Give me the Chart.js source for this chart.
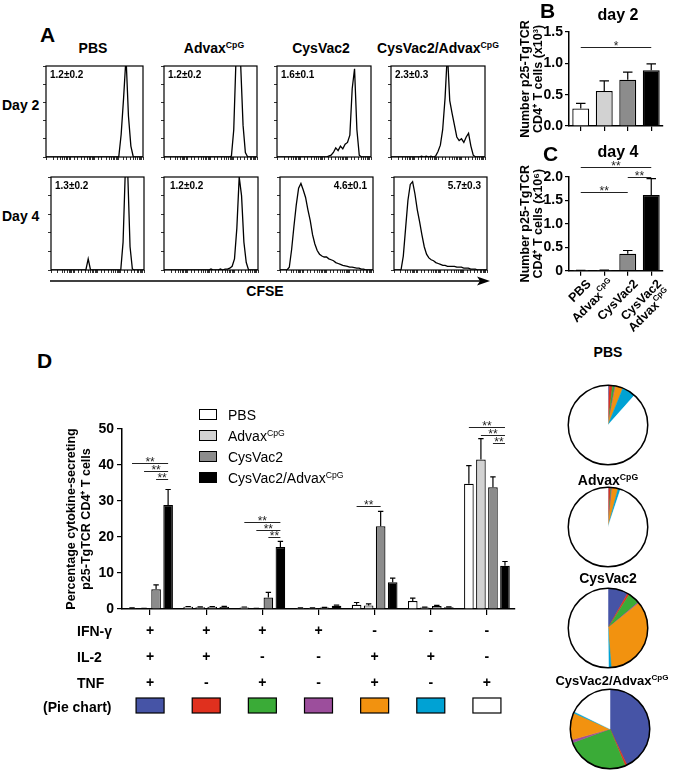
<!DOCTYPE html>
<html><head><meta charset="utf-8">
<script src="https://cdn.jsdelivr.net/npm/chart.js@4"></script>
<style>
body{margin:0;background:#fff;}
#fig{position:relative;width:675px;height:773px;overflow:hidden;font-family:"Liberation Sans",Arial,sans-serif;color:#000;background:#fff;}
.t{position:absolute;white-space:nowrap;line-height:1;z-index:5;}
.b{font-weight:bold;}
.c{transform:translate(-50%,-50%);}
.l{transform:translate(0,-50%);}
.r{transform:translate(-100%,-50%);}
.sw{position:absolute;width:18px;height:11px;box-sizing:border-box;border:1.2px solid #000;z-index:5;}
sup{font-size:0.62em;vertical-align:0.55em;line-height:0;}
canvas{position:absolute;}
</style></head>
<body>
<div id="fig">
<svg style="position:absolute;left:0;top:0" width="675" height="773">
  <line x1="50" y1="281" x2="481" y2="281" stroke="#000" stroke-width="1.5"/>
  <polygon points="490,281 477,276.5 480,281 477,285.5" fill="#000"/>
</svg>
<!-- Panel A -->
<div class="t l b" style="left:40px;top:34px;font-size:21px">A</div>
<div class="t c b" style="left:93px;top:48px;font-size:14px">PBS</div>
<div class="t c b" style="left:214px;top:48px;font-size:14px">Advax<sup>CpG</sup></div>
<div class="t c b" style="left:321px;top:48px;font-size:14px">CysVac2</div>
<div class="t c b" style="left:438px;top:48px;font-size:14px">CysVac2/Advax<sup>CpG</sup></div>
<div class="t l b" style="left:2px;top:105px;font-size:14px">Day 2</div>
<div class="t l b" style="left:2px;top:216px;font-size:14px">Day 4</div>
<div class="t l b" style="left:50px;top:75px;font-size:10px">1.2±0.2</div>
<div class="t l b" style="left:168px;top:75px;font-size:10px">1.2±0.2</div>
<div class="t l b" style="left:281px;top:75px;font-size:10px">1.6±0.1</div>
<div class="t l b" style="left:395px;top:75px;font-size:10px">2.3±0.3</div>
<div class="t l b" style="left:55px;top:186px;font-size:10px">1.3±0.2</div>
<div class="t l b" style="left:170px;top:186px;font-size:10px">1.2±0.2</div>
<div class="t r b" style="left:367px;top:186px;font-size:10px">4.6±0.1</div>
<div class="t r b" style="left:481px;top:186px;font-size:10px">5.7±0.3</div>
<div class="t c b" style="left:265px;top:291px;font-size:14px">CFSE</div>
<!-- Panel B / C -->
<div class="t l b" style="left:540px;top:10px;font-size:21px">B</div>
<div class="t c b" style="left:618px;top:15px;font-size:16px">day 2</div>
<div class="t l b" style="left:543px;top:153px;font-size:21px">C</div>
<div class="t c b" style="left:618px;top:152px;font-size:16px">day 4</div>
<!-- Panel D -->
<div class="t l b" style="left:37px;top:360px;font-size:21px">D</div>
<div class="sw" style="left:199px;top:409px;background:#ffffff"></div>
<div class="sw" style="left:199px;top:430px;background:#d2d2d2"></div>
<div class="sw" style="left:199px;top:451px;background:#8c8c8c"></div>
<div class="sw" style="left:199px;top:472px;background:#000000"></div>
<div class="t l" style="left:228px;top:415px;font-size:14px">PBS</div>
<div class="t l" style="left:228px;top:436px;font-size:14px">Advax<sup>CpG</sup></div>
<div class="t l" style="left:228px;top:457px;font-size:14px">CysVac2</div>
<div class="t l" style="left:228px;top:478px;font-size:14px">CysVac2/Advax<sup>CpG</sup></div>
<div class="t l b" style="left:77px;top:631px;font-size:14px">IFN-γ</div>
<div class="t l b" style="left:77px;top:657px;font-size:14px">IL-2</div>
<div class="t l b" style="left:77px;top:683px;font-size:14px">TNF</div>
<div class="t l b" style="left:43px;top:707px;font-size:14px">(Pie chart)</div>
<!-- pies titles -->
<div class="t c b" style="left:608px;top:352px;font-size:14px">PBS</div>
<div class="t c b" style="left:608px;top:480px;font-size:14px">Advax<sup>CpG</sup></div>
<div class="t c b" style="left:608px;top:578px;font-size:14px">CysVac2</div>
<div class="t c b" style="left:612px;top:680px;font-size:13px">CysVac2/Advax<sup>CpG</sup></div>
</div>
<script>
// ---------------- DATA ----------------
const groups = ['PBS', 'Advax^CpG', 'CysVac2', 'CysVac2/Advax^CpG'];
const groupColors = ['#ffffff', '#d2d2d2', '#8c8c8c', '#000000'];

// Panel A: CFSE histograms (bin positions on log CFSE axis, counts as % of max)
const cfseBins = [1, 1.26, 1.58, 2, 2.51, 3.16, 3.98, 5.01, 6.31, 7.94, 10, 12.6, 15.8, 20, 25.1, 31.6, 39.8, 50.1, 63.1, 79.4, 100, 126, 158, 200, 251, 316, 398, 501, 631, 794, 1000, 1259, 1585, 1995, 2512, 3162, 3981, 5012, 6310, 7943, 10000];
const histDay2PBS   = [0,0,0,0,0,0,0,0,0,0, 0,0,0,0,0,0,0,0,0,0, 0,0,0,0,0,0,0,0,0,0, 0,25,65,110,45,12,0,0,0,0,0];
const histDay2Advax = [0,0,0,0,0,0,0,0,0,0, 0,0,0,0,0,0,0,0,0,0, 0,0,0,0,0,0,0,0,0,1, 30,110,140,100,35,5,0,0,0,0,0];
const histDay2Cys   = [0,0,0,0,0,0,0,0,0,0, 0,0,0,0,0,0,0,0,0,0, 0,0,1,2,5,10,7,12,9,14, 16,24,75,97,30,2,0,0,0,0,0];
const histDay2Combo = [0,0,0,0,0,0,0,0,0,0, 0,0,0,1,0,1,0,1,0,1, 6,13,30,65,115,62,48,35,22,18, 20,16,22,26,12,2,0,0,0,0,0];
const histDay4PBS   = [0,0,0,0,0,0,0,0,0,0, 0,0,0,0,0,0,12,0,0,0, 0,0,0,0,0,0,0,0,0,0, 0,30,110,105,25,1,0,0,0,0,0];
const histDay4Advax = [0,0,0,0,0,0,0,0,0,0, 0,0,0,0,0,0,0,0,0,0, 1,0,0,0,1,0,1,1,2,4, 12,45,100,80,30,8,0,0,0,0,0];
const histDay4Cys   = [0,0,0,0,3,22,47,70,88,93, 86,78,65,53,38,28,21,17,15,14, 14,12,11,10,8,7,6,5,4.5,4, 3,3,2.5,2,2,1,1,0,0,0,0];
const histDay4Combo = [0,0,0,0,15,45,75,92,95,82, 65,52,38,25,17,13,11,10,8,7, 6,5,5,4,4,4,4,3,3,3, 2,2,2,1,1,1,0,0,0,0,0];

// Panel B (day 2, x10^3) and C (day 4, x10^6)
const day2Counts = [0.28, 0.56, 0.74, 0.89];
const day2Sem    = [0.08, 0.16, 0.12, 0.10];
const day4Counts = [0.005, 0.01, 0.36, 1.61];
const day4Sem    = [0.002, 0.003, 0.07, 0.35];
const xLabelsC   = [['PBS'], ['Advax^CpG'], ['CysVac2'], ['CysVac2', 'Advax^CpG']];
const day2Sig = [{from:0, to:3, y:1.265, label:'*'}];
const day4Sig = [{from:0, to:3, y:2.2, label:'**'}, {from:2, to:3, y:2.0, label:'**'}, {from:0, to:2, y:1.68, label:'**'}];

// Panel D: cytokine combinations
const ifnRow = ['+', '+', '+', '+', '-', '-', '-'];
const il2Row = ['+', '+', '-', '-', '+', '+', '-'];
const tnfRow = ['+', '-', '+', '-', '+', '-', '+'];
const pbsPct    = [0.2, 0.6, 0.4, 0.3, 1.2, 2.2, 34.8];
const advaxPct  = [0.15, 0.5, 0.15, 0.3, 1.0, 0.4, 41.5];
const cysPct    = [5.5, 0.6, 3.2, 0.4, 23.0, 0.8, 33.8];
const comboPct  = [28.9, 0.6, 17.2, 0.9, 7.4, 0.5, 12.0];
const pbsPctSem   = [0.1, 0.1, 0.15, 0.05, 0.6, 0.8, 5.0];
const advaxPctSem = [0.05, 0.1, 0.05, 0.05, 0.4, 0.1, 5.8];
const cysPctSem   = [1.2, 0.1, 1.4, 0.05, 4.1, 0.2, 2.9];
const comboPctSem = [4.3, 0.15, 1.6, 0.2, 1.2, 0.1, 1.2];
const sigD = [
  {cat:0, from:0, to:3, y:40.6}, {cat:0, from:1, to:3, y:38.4}, {cat:0, from:2, to:3, y:36.1},
  {cat:2, from:0, to:3, y:24.2}, {cat:2, from:1, to:3, y:22.0}, {cat:2, from:2, to:3, y:19.9},
  {cat:4, from:0, to:2, y:28.7},
  {cat:6, from:0, to:3, y:50.6}, {cat:6, from:1, to:3, y:48.3}, {cat:6, from:2, to:3, y:46.2}
];

// Pie charts (% of cytokine-secreting cells per combination)
const pieColors = ['#4654a6', '#e0301e', '#3aab37', '#9c4e9c', '#f2920f', '#00a2d4', '#ffffff'];
const piePBS   = [0.5, 1.3, 1.0, 0.3, 3.0, 5.5, 88.4];
const pieAdvax = [0.3, 0.8, 0.3, 0.3, 2.4, 1.0, 94.9];
const pieCys   = [8.2, 0.8, 4.8, 0.4, 34.5, 1.1, 50.2];
const pieCombo = [43.0, 0.8, 25.6, 1.2, 11.0, 0.6, 17.8];

// ---------------- RENDERING ----------------
Chart.defaults.font.family = '"Liberation Sans", Arial, sans-serif';
Chart.defaults.color = '#000';
const fig = document.getElementById('fig');
function makeCanvas(left, top, w, h) {
  const c = document.createElement('canvas');
  c.width = w; c.height = h;
  c.style.left = left + 'px'; c.style.top = top + 'px';
  c.style.width = w + 'px'; c.style.height = h + 'px';
  fig.appendChild(c);
  return c;
}
const baseOpts = {responsive:false, maintainAspectRatio:false, animation:false, devicePixelRatio:1,
  events:[], plugins:{legend:{display:false}, tooltip:{enabled:false}}};

function richParts(s) {
  const p = s.split('^');
  return p.length > 1 ? [{t:p[0], sup:false}, {t:p[1], sup:true}] : [{t:s, sup:false}];
}

const boxPlugin = {id:'box', afterDraw(chart) {
  const a = chart.chartArea, c = chart.ctx;
  c.save(); c.strokeStyle = '#000'; c.lineWidth = 1.2;
  c.strokeRect(a.left, a.top, a.right - a.left, a.bottom - a.top);
  c.restore();
}};

function histogram(box, counts) {
  const [l, t, w, h] = box;
  new Chart(makeCanvas(l - 6, t - 2, w + 8, h + 8), {
    type:'line',
    data:{datasets:[{data: cfseBins.map((x, i) => ({x:x, y:counts[i]})), borderColor:'#000', borderWidth:1.3,
      pointRadius:0, fill:false, tension:0}]},
    options:Object.assign({}, baseOpts, {
      layout:{padding:{top:2, right:2, left:0, bottom:0}},
      scales:{
        x:{type:'logarithmic', min:1, max:10000, ticks:{display:false},
           grid:{drawOnChartArea:false, tickLength:3, color:'#000', lineWidth:0.8}, border:{display:false},
           afterFit(s){ s.height = 6; }},
        y:{min:0, max:100, ticks:{display:false, stepSize:20},
           grid:{drawOnChartArea:false, tickLength:3, color:'#000', lineWidth:0.8}, border:{display:false},
           afterFit(s){ s.width = 6; }}
      }
    }),
    plugins:[boxPlugin]
  });
}
histogram([46, 66, 97, 91], histDay2PBS);
histogram([164, 66, 93, 91], histDay2Advax);
histogram([277, 66, 94, 91], histDay2Cys);
histogram([391, 66, 94, 91], histDay2Combo);
histogram([51, 177, 93, 93], histDay4PBS);
histogram([164, 177, 94, 93], histDay4Advax);
histogram([280, 177, 93, 93], histDay4Cys);
histogram([394, 177, 93, 93], histDay4Combo);

const errPlugin = {id:'err', afterDatasetsDraw(chart) {
  const c = chart.ctx, ys = chart.scales.y;
  c.save(); c.strokeStyle = '#000'; c.lineWidth = 1.2;
  chart.data.datasets.forEach((ds, i) => {
    if (!ds.errors) return;
    chart.getDatasetMeta(i).data.forEach((bar, j) => {
      const p = bar.getProps(['x', 'y', 'width'], true);
      const top = ys.getPixelForValue(ds.data[j] + ds.errors[j]);
      const cap = p.width * 0.28;
      c.beginPath();
      c.moveTo(p.x, p.y); c.lineTo(p.x, top);
      c.moveTo(p.x - cap, top); c.lineTo(p.x + cap, top);
      c.stroke();
    });
  });
  c.restore();
}};

function sigPlugin(items, xs) {
  return {id:'sig', afterDatasetsDraw(chart) {
    const c = chart.ctx, ys = chart.scales.y;
    c.save(); c.strokeStyle = '#222'; c.fillStyle = '#222'; c.lineWidth = 1;
    c.font = '12px "Liberation Sans", Arial, sans-serif'; c.textAlign = 'center'; c.textBaseline = 'alphabetic';
    items.forEach(it => {
      const [x1, x2] = xs(chart, it);
      const y = Math.round(ys.getPixelForValue(it.y)) + 0.5;
      c.beginPath(); c.moveTo(x1, y); c.lineTo(x2, y); c.stroke();
      c.fillText(it.label || '**', (x1 + x2) / 2, y + 2.5);
    });
    c.restore();
  }};
}
const xsSingle = (chart, it) => [chart.getDatasetMeta(0).data[it.from].x, chart.getDatasetMeta(0).data[it.to].x];

function smallBarOptions(yMax, padTop, xHeight, tickCb, titleText) {
  return Object.assign({}, baseOpts, {
    layout:{padding:{top:padTop, right:12, left:0, bottom:0}},
    scales:{
      x:{ticks:{display:false}, grid:{offset:false, drawOnChartArea:false, tickLength:5, color:'#000', lineWidth:1.2},
         border:{color:'#000', width:1.5}, afterFit(s){ s.height = xHeight; }},
      y:{min:0, max:yMax, ticks:{stepSize:0.5, font:{size:14, weight:'bold'}, padding:2, callback:tickCb},
         grid:{drawOnChartArea:false, tickLength:4, color:'#000', lineWidth:1.2}, border:{color:'#000', width:1.5},
         title:{display:true, text:titleText, font:{size:12.5, weight:'bold', lineHeight:1.08}, padding:{top:0.5, bottom:0}},
         afterFit(s){ s.width = 51; }}
    }
  });
}
function smallBarData(values, sems) {
  return {labels: groups, datasets:[{data: values, errors: sems, backgroundColor: groupColors, borderColor:'#000',
    borderWidth:1.3, barPercentage:0.72, categoryPercentage:1}]};
}

// Panel B
new Chart(makeCanvas(518, 0, 157, 140), {
  type:'bar', data: smallBarData(day2Counts, day2Sem),
  options: smallBarOptions(1.5, 32, 14, v => v.toFixed(1), ['Number p25-TgTCR', 'CD4⁺ T cells (x10³)']),
  plugins:[errPlugin, sigPlugin(day2Sig, xsSingle)]
});

// Panel C with rotated labels
const cLabelPlugin = {id:'clabels', afterDraw(chart) {
  const c = chart.ctx, xs = chart.scales.x;
  c.save(); c.fillStyle = '#000'; c.textBaseline = 'top';
  const big = 'bold 12.5px "Liberation Sans", Arial, sans-serif', small = 'bold 8px "Liberation Sans", Arial, sans-serif';
  xLabelsC.forEach((lines, i) => {
    const x = xs.getPixelForTick(i) + 4, y = xs.top + 7;
    lines.forEach((ln, k) => {
      const parts = richParts(ln);
      let total = 0;
      parts.forEach(p => { c.font = p.sup ? small : big; p.w = c.measureText(p.t).width; total += p.w; });
      c.save();
      c.translate(x + k * 9.5, y + k * 9.5);
      c.rotate(-Math.PI / 4);
      let cx = -total;
      parts.forEach(p => { c.font = p.sup ? small : big; c.fillText(p.t, cx, p.sup ? -2 : 0); cx += p.w; });
      c.restore();
    });
  });
  c.restore();
}};
new Chart(makeCanvas(518, 140, 157, 200), {
  type:'bar', data: smallBarData(day4Counts, day4Sem),
  options: smallBarOptions(2.0, 36.7, 69.3, v => v === 0 ? '0' : v.toFixed(1), ['Number p25-TgTCR', 'CD4⁺ T cells (x10⁶)']),
  plugins:[errPlugin, sigPlugin(day4Sig, xsSingle), cLabelPlugin]
});

// Panel D
const swatchPlugin = {id:'swatch', afterDraw(chart) {
  const c = chart.ctx, xs = chart.scales.x;
  c.save(); c.strokeStyle = '#000'; c.lineWidth = 1.2;
  pieColors.forEach((col, i) => {
    const x = xs.getPixelForTick(i), y = xs.top + 96.5;
    c.fillStyle = col; c.fillRect(x - 14, y - 7.5, 28, 15); c.strokeRect(x - 14, y - 7.5, 28, 15);
  });
  c.restore();
}};
const dValues = [pbsPct, advaxPct, cysPct, comboPct];
const dSems = [pbsPctSem, advaxPctSem, cysPctSem, comboPctSem];
new Chart(makeCanvas(0, 400, 530, 330), {
  type:'bar',
  data:{labels: ifnRow.map((v, i) => 'IFN-γ' + v + ' IL-2' + il2Row[i] + ' TNF' + tnfRow[i]),
    datasets: groups.map((g, k) => ({label:g, data:dValues[k], errors:dSems[k], backgroundColor:groupColors[k],
      borderColor:'#000', borderWidth:1.2, barPercentage:0.8, categoryPercentage:0.857}))},
  options:Object.assign({}, baseOpts, {
    layout:{padding:{top:29, right:15, left:0, bottom:0}},
    scales:{
      x:{ticks:{font:{size:14, weight:'bold', lineHeight:26/14}, padding:3, maxRotation:0, minRotation:0, autoSkip:false,
           callback:(v, i) => [ifnRow[i], il2Row[i], tnfRow[i]]},
         grid:{offset:false, drawOnChartArea:false, tickLength:6, color:'#000', lineWidth:1.2},
         border:{width:1.5, color:'#000'}, afterFit(s){ s.height = 121; }},
      y:{min:0, max:50, ticks:{stepSize:10, font:{size:14, weight:'bold'}, padding:3},
         grid:{drawOnChartArea:false, tickLength:5, color:'#000', lineWidth:1.2}, border:{width:1.5, color:'#000'},
         title:{display:true, text:['Percentage cytokine-secreting', 'p25-TgTCR CD4⁺ T cells'],
           font:{size:12.5, weight:'bold', lineHeight:1.2}, padding:{top:64.5, bottom:0}},
         afterFit(s){ s.width = 122; }}
    }
  }),
  plugins:[errPlugin, sigPlugin(sigD, (chart, it) => [chart.getDatasetMeta(it.from).data[it.cat].x, chart.getDatasetMeta(it.to).data[it.cat].x]), swatchPlugin]
});

// Pies
const ringPlugin = {id:'ring', afterDraw(chart) {
  const arc = chart.getDatasetMeta(0).data[0], c = chart.ctx;
  c.save(); c.strokeStyle = '#000'; c.lineWidth = 1.5;
  c.beginPath(); c.arc(arc.x, arc.y, arc.outerRadius, 0, Math.PI * 2); c.stroke();
  c.restore();
}};
function pie(cx, cy, vals) {
  new Chart(makeCanvas(cx - 43, cy - 43, 86, 86), {
    type:'pie',
    data:{labels:['+++', '++-', '+-+', '+--', '-++', '-+-', '--+'],
      datasets:[{data:vals, backgroundColor:pieColors, borderColor:pieColors, borderWidth:0.5}]},
    options:Object.assign({}, baseOpts, {layout:{padding:3}}),
    plugins:[ringPlugin]
  });
}
pie(608, 425, piePBS);
pie(608, 527, pieAdvax);
pie(608, 628, pieCys);
pie(610, 729, pieCombo);
</script>
</body></html>
